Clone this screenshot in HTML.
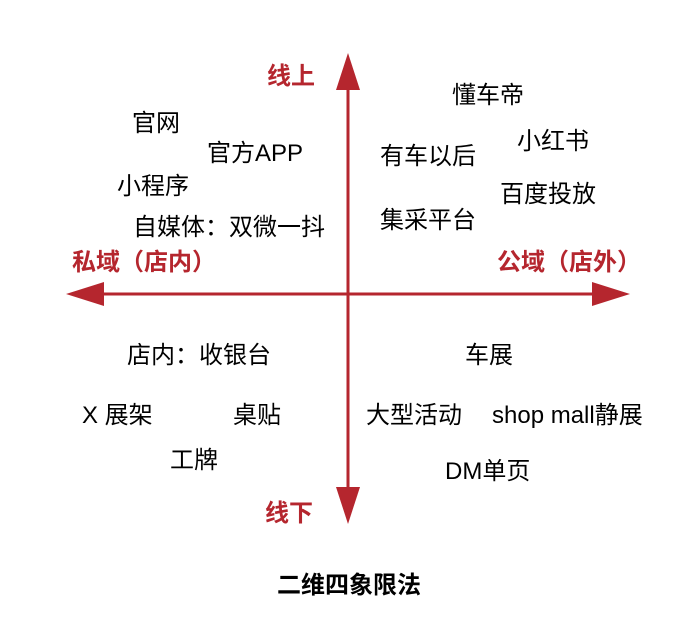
<!DOCTYPE html>
<html><head><meta charset="utf-8"><style>
body{margin:0;width:690px;height:626px;background:#fff;position:relative;overflow:hidden;font-family:"Liberation Sans","Noto Sans CJK SC",sans-serif;}
.t{position:absolute;font-size:24px;line-height:24px;white-space:nowrap;color:#000;margin-top:2px;}
.r{color:#b5262e;font-weight:bold;}
.b{font-weight:bold;}
</style></head><body>
<svg width="690" height="626" style="position:absolute;left:0;top:0">
<g fill="#b5262e">
<rect x="346.5" y="85" width="3" height="415"/>
<polygon points="348,53 336,90 360,90"/>
<polygon points="348,524 336,487 360,487"/>
<rect x="100" y="292.5" width="496" height="3"/>
<polygon points="66,294 104,282 104,306"/>
<polygon points="630,294 592,282 592,306"/>
</g>
</svg>
<div class="t r" style="left:267px;top:63px">线上</div>
<div class="t" style="left:452px;top:82px">懂车帝</div>
<div class="t" style="left:132px;top:110px">官网</div>
<div class="t" style="left:207px;top:140px">官方APP</div>
<div class="t" style="left:380px;top:143px">有车以后</div>
<div class="t" style="left:517px;top:128px">小红书</div>
<div class="t" style="left:117px;top:173px">小程序</div>
<div class="t" style="left:500px;top:181px">百度投放</div>
<div class="t" style="left:380px;top:207px">集采平台</div>
<div class="t" style="left:133px;top:214px">自媒体：双微一抖</div>
<div class="t r" style="left:72px;top:249px">私域（店内）</div>
<div class="t r" style="left:497px;top:249px">公域（店外）</div>
<div class="t" style="left:127px;top:342px">店内：收银台</div>
<div class="t" style="left:465px;top:342px">车展</div>
<div class="t" style="left:82px;top:402px">X 展架</div>
<div class="t" style="left:233px;top:402px">桌贴</div>
<div class="t" style="left:366px;top:402px">大型活动</div>
<div class="t" style="left:492px;top:402px">shop mall静展</div>
<div class="t" style="left:170px;top:447px">工牌</div>
<div class="t" style="left:445px;top:458px">DM单页</div>
<div class="t r" style="left:265px;top:500px">线下</div>
<div class="t b" style="left:277px;top:572px">二维四象限法</div>
</body></html>
